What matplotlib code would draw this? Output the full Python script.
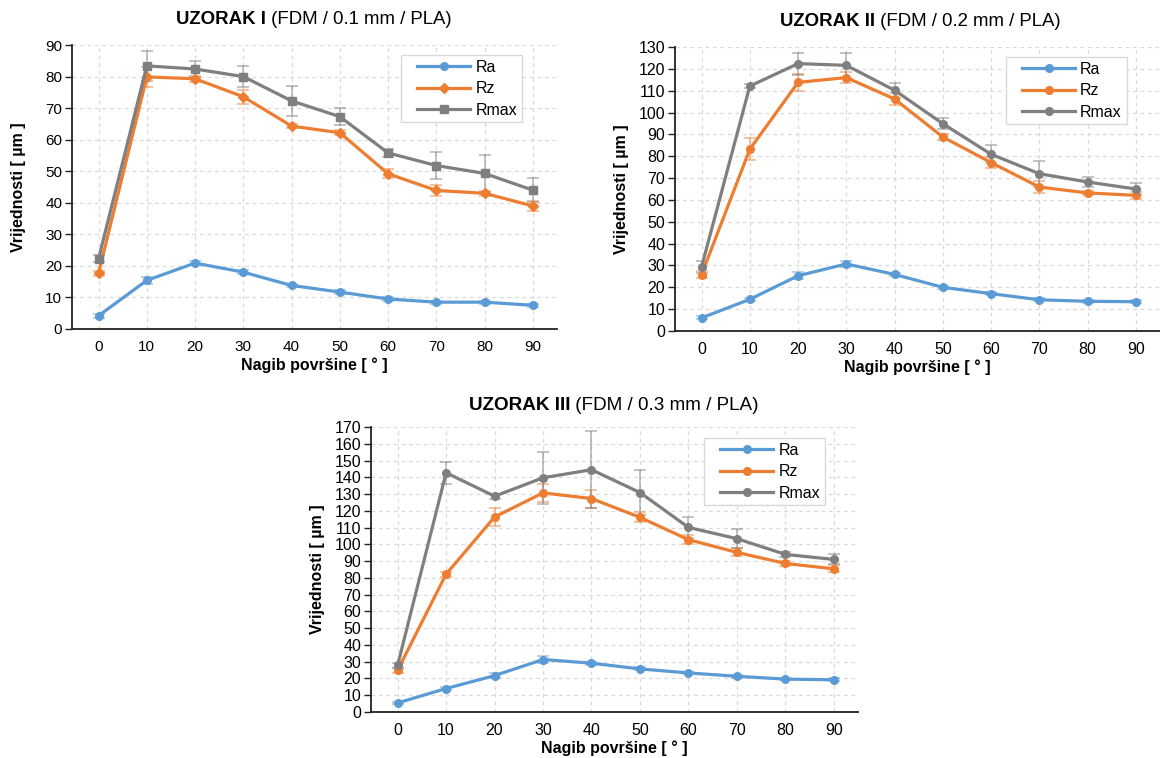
import numpy as np
import matplotlib.pyplot as plt
from matplotlib.lines import Line2D
from matplotlib.legend_handler import HandlerLine2D

plt.rcParams['font.family'] = ['Liberation Sans', 'DejaVu Sans']

# nagib povrsine (x os)
nagib = [0, 10, 20, 30, 40, 50, 60, 70, 80, 90]

# UZORAK I
ra1 = [4.2, 15.4, 20.9, 18.0, 13.8, 11.7, 9.5, 8.5, 8.5, 7.5]
rz1 = [17.7, 79.9, 79.3, 73.6, 64.3, 62.2, 49.2, 43.9, 43.0, 39.0]
rmax1 = [22.3, 83.4, 82.4, 80.0, 72.3, 67.3, 55.8, 51.8, 49.3, 44.0]
ra1_err = [0.6, 1.2, 0.6, 0.7, 0.6, 0.5, 0.5, 0.5, 0.5, 0.5]
rz1_err = [0.8, 3.1, 1.0, 2.3, 0.7, 0.8, 1.5, 1.7, 0.8, 1.5]
rmax1_err = [1.0, 4.7, 2.4, 3.2, 4.8, 2.8, 1.3, 4.4, 6.0, 3.8]

# UZORAK II
ra2 = [6.0, 14.5, 25.3, 30.7, 25.9, 20.0, 17.1, 14.3, 13.6, 13.4]
rz2 = [25.8, 83.2, 113.8, 116.0, 106.2, 88.8, 77.1, 65.9, 63.2, 62.1]
rmax2 = [29.3, 112.1, 122.4, 121.6, 110.2, 94.9, 80.9, 72.0, 68.2, 65.0]
ra2_err = [0.7, 0.8, 1.6, 1.3, 0.8, 0.7, 0.6, 0.6, 0.6, 0.6]
rz2_err = [1.6, 5.1, 3.9, 2.7, 2.8, 1.2, 2.5, 2.8, 1.0, 1.5]
rmax2_err = [2.7, 1.0, 5.0, 5.8, 3.5, 2.6, 4.1, 6.0, 2.1, 2.6]

# UZORAK III
ra3 = [5.4, 14.0, 21.7, 31.3, 29.1, 25.7, 23.3, 21.3, 19.6, 19.2]
rz3 = [24.9, 82.2, 116.3, 130.7, 127.3, 116.1, 102.8, 95.2, 88.6, 85.4]
rmax3 = [27.9, 142.7, 128.7, 139.7, 144.5, 130.9, 110.1, 103.4, 94.0, 91.0]
ra3_err = [0.8, 1.0, 1.4, 2.2, 1.0, 0.9, 0.8, 0.8, 0.8, 0.8]
rz3_err = [1.5, 1.5, 5.3, 5.2, 5.4, 2.9, 2.5, 2.4, 1.5, 2.0]
rmax3_err = [1.5, 6.7, 1.5, 15.4, 23.0, 13.6, 6.3, 5.8, 1.5, 3.0]

serije = ['Ra', 'Rz', 'Rmax']
boje = ['#5B9BD5', '#ED7D31', '#7F7F7F']

fig = plt.figure(figsize=(11.6, 7.58), dpi=100)

def crtaj(rect, podaci, greske, markeri, ymax, naslov, leg_pos, tcx, fs):
    ax = fig.add_axes(rect)
    for vals, err, c, m, lab in zip(podaci, greske, boje, markeri, serije):
        ms = 5.5 if m == 'o' else (6 if m == 's' else 5)
        ax.errorbar(nagib, vals, yerr=err, fmt='none', ecolor=c, alpha=0.55,
                    elinewidth=1.2, capsize=4, capthick=1.2, zorder=2)
        ax.plot(nagib, vals, color=c, marker=m, ms=ms, lw=2.3, label=lab, zorder=3)
    ax.set_xlim(-5.5, 95)
    ax.set_ylim(0, ymax)
    ax.set_xticks(nagib)
    ax.set_yticks(np.arange(0, ymax + 1, 10))
    ax.grid(True, ls=(0, (3, 3)), color='#D9D9D9', lw=0.9)
    ax.set_axisbelow(True)
    for s in ['top', 'right']:
        ax.spines[s].set_visible(False)
    for s in ['left', 'bottom']:
        ax.spines[s].set_color('#222222')
        ax.spines[s].set_linewidth(1.3)
    ax.tick_params(axis='y', length=5, width=1, labelsize=fs, pad=2, color='#222222')
    ax.tick_params(axis='x', length=0, labelsize=fs, pad=8)
    ax.set_ylabel('Vrijednosti [ µm ]', fontsize=11.5, fontweight='bold')
    ax.set_xlabel('Nagib površine [ ° ]', fontsize=11.5, fontweight='bold')
    ax.yaxis.set_label_coords(-0.095, 0.5)
    ax.xaxis.set_label_coords(0.5, -0.1)
    leg = ax.legend(loc='upper left', bbox_to_anchor=leg_pos, bbox_transform=fig.transFigure,
                    fontsize=11.5, handlelength=4.05, handletextpad=0.3, labelspacing=0.4,
                    fancybox=False, framealpha=1, borderpad=0.3, borderaxespad=0,
                    handler_map={Line2D: HandlerLine2D(xpad=0.7)})
    leg.get_frame().set_edgecolor('#D9D9D9')
    leg.get_frame().set_linewidth(1)
    # naslov: bold dio + obicni dio
    t1 = fig.text(tcx, naslov[2], naslov[0], fontsize=naslov[3], fontweight='bold', ha='left', va='center')
    t2 = fig.text(tcx, naslov[2], naslov[1], fontsize=naslov[3], ha='left', va='center')
    r = fig.canvas.get_renderer()
    w1 = t1.get_window_extent(r).width / fig.bbox.width
    w2 = t2.get_window_extent(r).width / fig.bbox.width
    t1.set_x(tcx - (w1 + w2) / 2)
    t2.set_x(tcx - (w1 + w2) / 2 + w1)
    return ax

crtaj([0.0621, 0.566, 0.418, 0.3746], [ra1, rz1, rmax1], [ra1_err, rz1_err, rmax1_err],
      ['o', 'D', 's'], 90, ('UZORAK I', ' (FDM / 0.1 mm / PLA)', 1 - 19 / 758, 13.4),
      (0.3457, 0.9274), 314 / 1160, 11)
crtaj([0.5819, 0.5633, 0.4181, 0.3747], [ra2, rz2, rmax2], [ra2_err, rz2_err, rmax2_err],
      ['o', 'o', 'o'], 130, ('UZORAK II', ' (FDM / 0.2 mm / PLA)', 1 - 21 / 758, 13.4),
      (0.8672, 0.9248), 920 / 1160, 11.5)
crtaj([0.3198, 0.0607, 0.4199, 0.376], [ra3, rz3, rmax3], [ra3_err, rz3_err, rmax3_err],
      ['o', 'o', 'o'], 170, ('UZORAK III', ' (FDM / 0.3 mm / PLA)', 1 - 406 / 758, 13.6),
      (0.6069, 0.4222), 614 / 1160, 11.5)

fig.savefig('out.png', dpi=100)
